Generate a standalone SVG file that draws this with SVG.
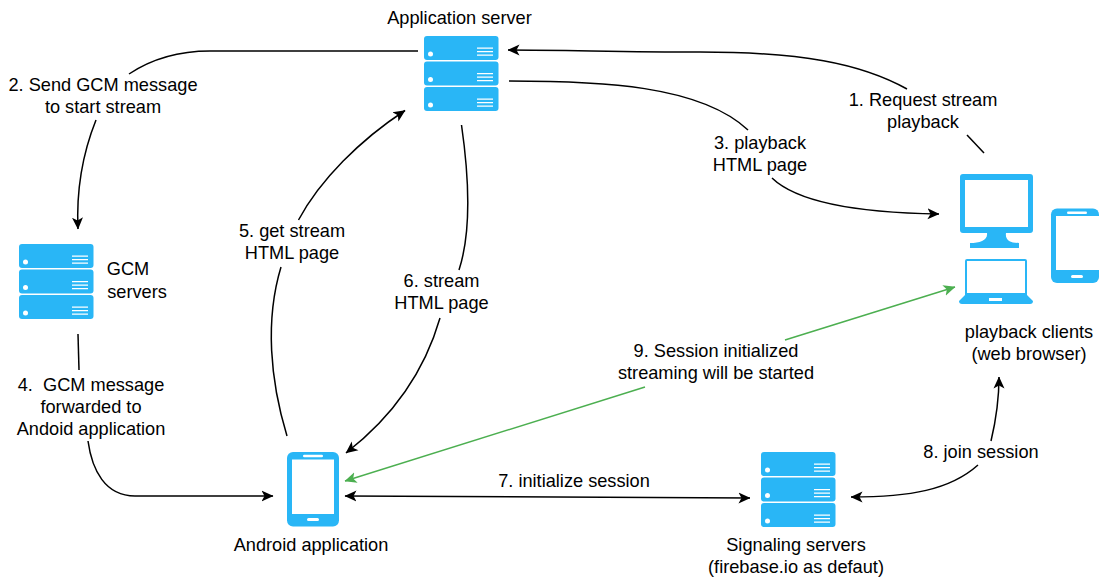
<svg xmlns="http://www.w3.org/2000/svg" width="1099" height="577" viewBox="0 0 1099 577">
<style>
text{font-family:"Liberation Sans",Arial,sans-serif;font-size:18.2px;fill:#000;text-anchor:middle}
.c{fill:none;stroke:#000;stroke-width:1.5}
.g{fill:none;stroke:#4caf50;stroke-width:1.5}
.b{fill:#29b6f6}
.w{fill:#fff}
</style>
<defs>
<marker id="ah" viewBox="0 0 12 12" refX="11.500" refY="6" markerWidth="12" markerHeight="12" markerUnits="userSpaceOnUse" orient="auto-start-reverse"><path d="M0,0.500L12,6L0,11.500L3,6Z" fill="#000"/></marker>
<marker id="ag" viewBox="0 0 12 12" refX="11.500" refY="6" markerWidth="12" markerHeight="12" markerUnits="userSpaceOnUse" orient="auto-start-reverse"><path d="M0,0.500L12,6L0,11.500L3,6Z" fill="#4caf50"/></marker>
<g id="row">
<rect class="b" width="74.500" height="24" rx="3"/>
<circle class="w" cx="6.500" cy="18" r="2.500"/>
<path class="w" d="M53,11.500h16v1.300h-16zM53,15h16v1.300h-16zM53,18.500h16v1.300h-16z"/>
</g>
<g id="server"><use href="#row"/><use href="#row" y="25.500"/><use href="#row" y="51"/></g>
<g id="phone">
<rect class="b" width="52" height="74.500" rx="6"/>
<rect class="w" x="5" y="7.500" width="42" height="54.500"/>
<rect class="w" x="16" y="2.700" width="20" height="2.600" rx="1.300"/>
<rect class="w" x="20" y="66" width="12" height="3" rx="1.500"/>
</g>
</defs>
<g id="connectors">
<path class="c" d="M984,153L967,135"/>
<path class="c" marker-end="url(#ah)" d="M907,89C860,63 800,52 700,52C620,52 570,50 508,50"/>
<path class="c" d="M418,51L210,51C175,51 150,60 129,74"/>
<path class="c" marker-end="url(#ah)" d="M96,120C84,150 76,185 78,229"/>
<path class="c" d="M509,81C600,81 700,85 748,130"/>
<path class="c" marker-end="url(#ah)" d="M772,178C800,205 870,213 939,214"/>
<path class="c" d="M78,334L79,370"/>
<path class="c" marker-end="url(#ah)" d="M88,441C92,470 105,496 135,496L273,496"/>
<path class="c" d="M287,436C270,380 265,320 281,267"/>
<path class="c" marker-end="url(#ah)" d="M298.500,220C320,180 360,140 405,110.500"/>
<path class="c" d="M461.500,125C468,170 472,230 459,270"/>
<path class="c" marker-end="url(#ah)" d="M440,318C425,370 395,415 346,453"/>
<path class="c" marker-start="url(#ah)" marker-end="url(#ah)" d="M345,496L750,498"/>
<path class="c" marker-end="url(#ah)" d="M978,465C950,490 910,497 851,497"/>
<path class="c" marker-end="url(#ah)" d="M991,441C996,420 999,400 999,377"/>
<path class="g" marker-start="url(#ag)" d="M345,481L645,387"/>
<path class="g" marker-end="url(#ag)" d="M785,340L955,287"/>
</g>
<g id="app-server"><use href="#server" x="424" y="36"/><text x="459.500" y="24">Application server</text></g>
<g id="gcm-servers"><use href="#server" x="19" y="244"/><text x="128" y="275">GCM</text><text x="137" y="298">servers</text></g>
<g id="signaling-servers"><use href="#server" x="761" y="452"/><text x="796" y="551">Signaling servers</text><text x="796" y="573">(firebase.io as defaut)</text></g>
<g id="android-app"><use href="#phone" x="287" y="452"/><text x="311" y="551">Android application</text></g>
<g id="playback-clients">
<path class="b" fill-rule="evenodd" d="M963,174H1030Q1033,174 1033,177V230Q1033,233 1030,233H1006C1005,240 1010,243 1019,243V248H970V243C980,243 988,240 987,233H963Q960,233 960,230V177Q960,174 963,174ZM965,180V227H1028V180Z"/>
<path class="b" fill-rule="evenodd" d="M967,259H1025Q1027,259 1027,261V295L1033,301Q1033,304 1030,304H962Q959,304 959,301L965,295V261Q965,259 967,259ZM967,261V293H1025V261ZM989,298V301H1002V298Z"/>
<g><rect class="b" x="1051" y="208.500" width="48" height="74.500" rx="6"/><rect class="w" x="1056" y="216" width="43" height="54"/><rect class="w" x="1067" y="211.500" width="20" height="2.600" rx="1.300"/><rect class="w" x="1071" y="275" width="12" height="3" rx="1.500"/></g>
<text x="1029" y="338">playback clients</text><text x="1029" y="360">(web browser)</text>
</g>
<g id="labels">
<text x="923" y="106">1. Request stream</text><text x="923" y="128">playback</text>
<text x="103" y="91">2. Send GCM message</text><text x="103" y="113">to start stream</text>
<text x="760" y="149">3. playback</text><text x="760" y="171">HTML page</text>
<text x="91" y="391">4. &#160;GCM message</text><text x="91" y="413">forwarded to</text><text x="91" y="435">Andoid application</text>
<text x="292" y="237">5. get stream</text><text x="292" y="259">HTML page</text>
<text x="441.500" y="287">6. stream</text><text x="441.500" y="309">HTML page</text>
<text x="574" y="487">7. initialize session</text>
<text x="981" y="458">8. join session</text>
<text x="716" y="357">9. Session initialized</text><text x="716" y="379">streaming will be started</text>
</g>
</svg>
